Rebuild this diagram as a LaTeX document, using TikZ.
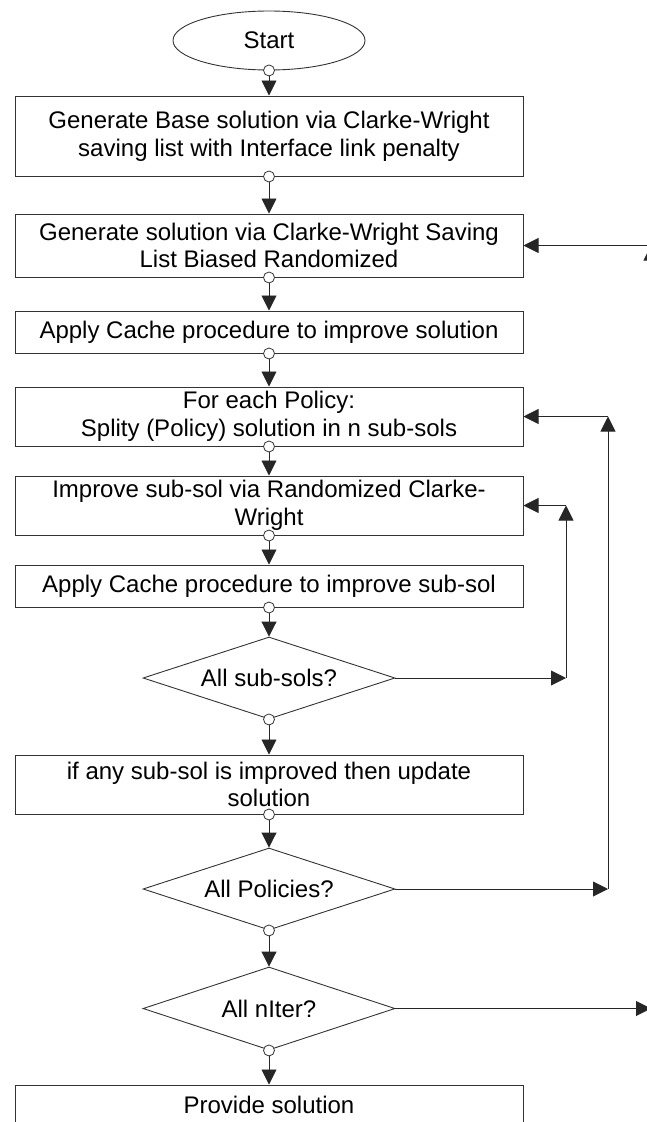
\documentclass[tikz,border=0pt]{standalone}
\usepackage{fontspec}
\setmainfont{Liberation Sans}
\usetikzlibrary{arrows.meta,shapes.geometric}
\begin{document}
\begin{tikzpicture}[x=1pt,y=-1pt,
  every node/.style={font=\fontsize{24}{27.6}\selectfont},
  procbox/.style={draw=black!80,line width=1pt,rectangle,minimum width=508pt,inner sep=0pt,align=center,fill=white},
  decbox/.style={draw=black!80,line width=0.9pt,diamond,shape aspect=3.07,minimum width=252pt,minimum height=82pt,inner sep=0pt,align=center},
  termbox/.style={draw=black!80,line width=0.9pt,ellipse,minimum width=192pt,minimum height=59pt,inner sep=0pt},
  arr/.style={draw=black!85,line width=0.9pt,-{Triangle[length=15pt,width=15pt]}},
  port/.style={draw=black!80,line width=0.8pt,fill=white}
]
\useasboundingbox (0,0) rectangle (646,1122);
\node[termbox] (start) at (269,40.5) {Start};
\node[procbox,minimum height=80pt] (b1) at (269,136) {Generate Base solution via Clarke-Wright\\saving list with Interface link penalty};
\node[procbox,minimum height=63pt] (b2) at (269,245.5) {Generate solution via Clarke-Wright Saving\\List Biased Randomized};
\node[procbox,minimum height=42pt] (b3) at (269,332) {Apply Cache procedure to improve solution};
\node[procbox,minimum height=59pt] (b4) at (269,416.5) {For each Policy:\\Splity (Policy) solution in n sub-sols};
\node[procbox,minimum height=59pt] (b5) at (269,505.5) {Improve sub-sol via Randomized Clarke-\\Wright};
\node[procbox,minimum height=42pt] (b6) at (269,586) {Apply Cache procedure to improve sub-sol};
\node[decbox] (d1) at (269,678) {All sub-sols?};
\node[procbox,minimum height=59pt] (b7) at (269,784.5) {if any sub-sol is improved then update\\solution};
\node[decbox] (d2) at (269,889) {All Policies?};
\node[decbox,minimum height=83pt] (d3) at (269,1008.5) {All nIter?};
\node[procbox,minimum height=40pt] (b8) at (269,1105) {Provide solution};

% main flow
\draw[arr] (start.south) -- (b1.north);
\draw[arr] (b1.south) -- (b2.north);
\draw[arr] (b2.south) -- (b3.north);
\draw[arr] (b3.south) -- (b4.north);
\draw[arr] (b4.south) -- (b5.north);
\draw[arr] (b5.south) -- (b6.north);
\draw[arr] (b6.south) -- (d1.north);
\draw[arr] (d1.south) -- (b7.north);
\draw[arr] (b7.south) -- (d2.north);
\draw[arr] (d2.south) -- (d3.north);
\draw[arr] (d3.south) -- (b8.north);

% loops
\coordinate (l1b) at (566,678);
\coordinate (l1t) at (566,505.5);
\draw[arr] (d1.east) -- (l1b);
\draw[arr] (l1b) -- (l1t);
\draw[arr] (l1t) -- (b5.east);

\coordinate (l2b) at (608,889);
\coordinate (l2t) at (608,416.5);
\draw[arr] (d2.east) -- (l2b);
\draw[arr] (l2b) -- (l2t);
\draw[arr] (l2t) -- (b4.east);

\coordinate (l3b) at (651,1008.5);
\coordinate (l3t) at (651,245.5);
\draw[arr] (d3.east) -- (l3b);
\draw[arr] (l3b) -- (l3t);
\draw[arr] (l3t) -- (b2.east);

% connection ports
\foreach \n in {start,b1,b2,b3,b4,b5,b6,d1,b7,d2,d3}
  \draw[port] (\n.south) circle (5.5pt);
\end{tikzpicture}
\end{document}
